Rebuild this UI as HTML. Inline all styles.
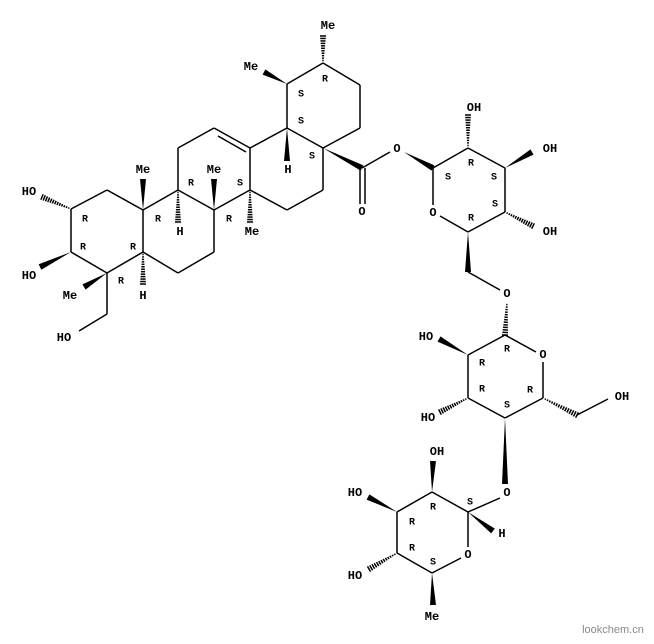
<!DOCTYPE html>
<html><head><meta charset="utf-8"><style>
html,body{margin:0;padding:0;background:#fff;width:654px;height:644px;overflow:hidden}
svg text{font-family:"Liberation Mono","DejaVu Sans Mono",monospace;font-weight:bold;fill:#000;text-anchor:middle;dominant-baseline:central;paint-order:stroke;stroke:#fff;stroke-width:3px}
.a{font-size:12px}.s{font-size:10px;stroke-width:0}
</style></head><body>
<svg id="m" width="654" height="644" viewBox="0 0 654 644" xmlns="http://www.w3.org/2000/svg">
<g id="b" stroke="#000" stroke-width="1.5" fill="none"></g>
<g id="w" fill="#000"></g>
<g id="t">
<text class="a" x="29" y="192">HO</text>
<text class="a" x="29" y="276">HO</text>
<text class="a" x="70" y="296">Me</text>
<text class="a" x="64" y="338">HO</text>
<text class="a" x="143" y="296">H</text>
<text class="a" x="143" y="170">Me</text>
<text class="a" x="180" y="232">H</text>
<text class="a" x="214" y="170">Me</text>
<text class="a" x="252" y="232">Me</text>
<text class="a" x="288" y="170">H</text>
<text class="a" x="251" y="67">Me</text>
<text class="a" x="328" y="26">Me</text>
<text class="a" x="362" y="212">O</text>
<text class="a" x="397" y="149">O</text>
<text class="a" x="433" y="213">O</text>
<text class="a" x="474" y="108">OH</text>
<text class="a" x="550" y="149">OH</text>
<text class="a" x="550" y="232">OH</text>
<text class="a" x="507" y="294">O</text>
<text class="a" x="543" y="355">O</text>
<text class="a" x="426" y="337">HO</text>
<text class="a" x="428" y="418">HO</text>
<text class="a" x="622" y="397">OH</text>
<text class="a" x="507" y="493">O</text>
<text class="a" x="502" y="534">H</text>
<text class="a" x="437" y="452">OH</text>
<text class="a" x="355" y="493">HO</text>
<text class="a" x="355" y="576">HO</text>
<text class="a" x="468" y="555">O</text>
<text class="a" x="432" y="617">Me</text>
<text class="s" x="85" y="220">R</text>
<text class="s" x="83" y="248">R</text>
<text class="s" x="121" y="282">R</text>
<text class="s" x="133" y="248">R</text>
<text class="s" x="158" y="220">R</text>
<text class="s" x="191" y="184">R</text>
<text class="s" x="229" y="220">R</text>
<text class="s" x="240" y="184">S</text>
<text class="s" x="301" y="95">S</text>
<text class="s" x="301" y="122">S</text>
<text class="s" x="312" y="157">S</text>
<text class="s" x="325" y="80">R</text>
<text class="s" x="448" y="178">S</text>
<text class="s" x="471" y="164">R</text>
<text class="s" x="494" y="178">S</text>
<text class="s" x="495" y="205">S</text>
<text class="s" x="471" y="219">R</text>
<text class="s" x="507" y="350">R</text>
<text class="s" x="482" y="364">R</text>
<text class="s" x="482" y="390">R</text>
<text class="s" x="530" y="391">R</text>
<text class="s" x="507" y="406">S</text>
<text class="s" x="433" y="508">R</text>
<text class="s" x="470" y="503">S</text>
<text class="s" x="412" y="523">R</text>
<text class="s" x="412" y="549">R</text>
<text class="s" x="433" y="563">S</text>
<text class="s" x="613" y="630" style="fill:#888;font-weight:normal;font-family:'Liberation Sans',sans-serif;font-size:11px">lookchem.cn</text>
</g>
</svg>
<script>
var B=document.getElementById('b'),W=document.getElementById('w'),NS='http://www.w3.org/2000/svg';
function L(a,b,c,d){var l=document.createElementNS(NS,'line');l.setAttribute('x1',a);l.setAttribute('y1',b);l.setAttribute('x2',c);l.setAttribute('y2',d);B.appendChild(l);}
function P(pts){for(var i=0;i<pts.length-1;i++)L(pts[i][0],pts[i][1],pts[i+1][0],pts[i+1][1]);}
function wedge(a,b,c,d){var dx=c-a,dy=d-b,n=Math.hypot(dx,dy),px=-dy/n*3,py=dx/n*3;var p=document.createElementNS(NS,'polygon');p.setAttribute('points',a+','+b+' '+(c+px)+','+(d+py)+' '+(c-px)+','+(d-py));W.appendChild(p);}
function hash(a,b,c,d){var dx=c-a,dy=d-b,n=Math.hypot(dx,dy),ux=-dy/n,uy=dx/n,k=Math.max(3,Math.round(n/2.5));for(var i=1;i<=k;i++){var t=i/k,x=a+dx*t,y=b+dy*t,h=0.5+2.5*t;L(x+ux*h,y+uy*h,x-ux*h,y-uy*h);}}
P([[71,209],[107,190],[143,210],[143,252],[107,273],[71,252],[71,209]]);
hash(71,209,42,197);wedge(71,252,40,267);wedge(107,273,84,287);
P([[107,273],[107,314],[79,331]]);hash(143,252,143,284);
P([[143,210],[178,190],[214,210],[214,252],[178,273],[143,252]]);
wedge(143,210,143,179);hash(178,190,178,222);wedge(214,210,214,179);
P([[178,190],[178,148],[214,128],[250,148],[250,190],[214,210]]);
L(218,136,246,152);hash(250,190,250,222);
P([[250,148],[287,128],[323,148],[323,190],[287,210],[250,190]]);
wedge(287,128,287,161);
P([[287,128],[287,84],[323,63],[360,85],[360,128],[323,148]]);
wedge(287,84,264,72);hash(323,63,323,36);
wedge(323,148,362,168);L(360,168,360,204);L(365,168,365,204);
L(362,168,390,152);wedge(404,152,433,168);
P([[433,168],[468,148],[505,168],[505,212],[468,232],[440,216]]);L(433,168,433,205);
hash(468,148,468,115);wedge(505,168,532,152);hash(505,212,533,226);
wedge(468,232,468,272);L(468,272,500,290);hash(507,302,505,335);
P([[505,335],[536,352]]);P([[543,362],[543,398],[505,418],[468,398],[468,355],[505,335]]);
wedge(468,355,439,339);hash(468,398,440,412);
hash(543,398,577,415);L(577,415,608,399);
wedge(505,418,505,484);
L(500,498,468,512);wedge(468,512,493,531);
P([[468,512],[432,492],[397,512],[397,553],[432,573],[461,558]]);L(468,512,468,547);
wedge(432,492,433,461);wedge(397,512,368,497);hash(397,553,369,569);wedge(432,573,433,605);
</script>
</body></html>
